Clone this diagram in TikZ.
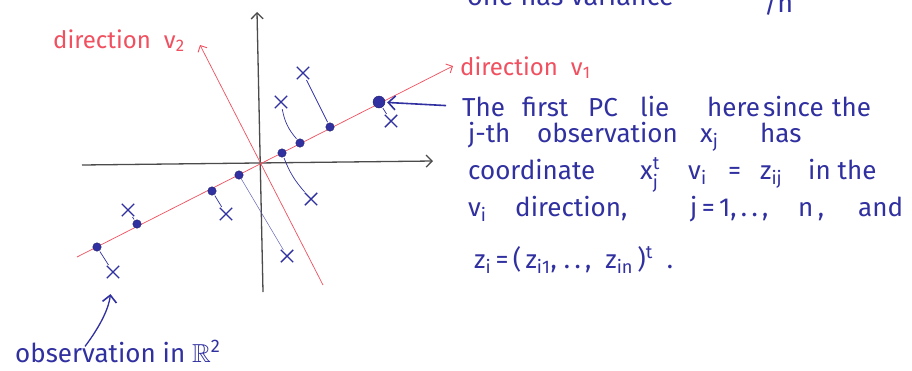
\documentclass[tikz,border=0pt]{standalone}
\usepackage{amsmath,amssymb}
\usepackage{fontspec}
\setmainfont{Fira Sans}
\usetikzlibrary{arrows.meta,shapes.misc}
\definecolor{ink}{RGB}{48,48,160}
\definecolor{redink}{RGB}{240,80,95}
\definecolor{axisgray}{RGB}{75,75,75}
\tikzset{
  axisline/.style={draw=axisgray,line width=1.3pt,-{Straight Barb[length=6pt,width=12pt,line width=1.3pt]}},
  pcline/.style={draw=redink,line width=0.7pt},
  pcarrow/.style={pcline,-{Straight Barb[length=5pt,width=10pt,line width=0.9pt]}},
  dotn/.style={circle,fill=ink,draw=ink!70!black,inner sep=0pt,minimum size=8.5pt},
  bigdot/.style={dotn,minimum size=12pt},
  cross/.style={cross out,draw=ink,line width=1.4pt,inner sep=0pt,minimum size=11pt},
  proj/.style={draw=ink,line width=0.7pt,shorten >=1pt,shorten <=1pt},
  thinproj/.style={draw=ink!80,line width=0.45pt},
  bluetext/.style={text=ink,font=\fontsize{26}{29}\selectfont,inner sep=0pt,anchor=base west},
  toptext/.style={bluetext,font=\fontsize{27}{30}\selectfont},
  redtext/.style={text=redink,font=\fontsize{24}{27}\selectfont,inner sep=0pt,anchor=base west},
  inkarrow/.style={draw=ink,line width=1.6pt,-{Straight Barb[length=7pt,width=14pt,line width=1.6pt]}},
}
\begin{document}
\begin{tikzpicture}[x=1pt,y=-1pt]
\useasboundingbox (0,0) rectangle (912,370);
\clip (0,0) rectangle (912,370);
\fill[white] (0,0) rectangle (912,370);

% partially visible text at top (cut off by the edge, as in the reference)
\node[toptext] (top1) at (467,5) {one has variance};
\node[toptext] (top2) at (764,12) {/n};

% axes
\coordinate (xl) at (82,165);
\coordinate (xr) at (433,161);
\coordinate (yb) at (263,292);
\coordinate (yt) at (257,12);
\draw[axisline] (xl) -- (xr);
\draw[axisline] (yb) -- (yt);

% principal directions
\coordinate (v1a) at (77,257);
\coordinate (v1b) at (453,66);
\coordinate (v2a) at (323,285);
\coordinate (v2b) at (200,45);
\draw[pcarrow] (v1a) -- (v1b);
\draw[pcarrow] (v2a) -- (v2b);

\node[redtext] (lv2) at (53,48) {direction \;v$_{\text{2}}$};
\node[redtext] (lv1) at (460,75) {direction \;v$_{\text{1}}$};

% projected points and observations
\node[dotn] (d1) at (97,247) {};
\node[cross] (c1) at (113,272) {};
\node[dotn] (d2) at (137,224) {};
\node[cross] (c2) at (128,210) {};
\node[dotn] (d3) at (212,191) {};
\node[cross] (c3) at (226,214) {};
\node[dotn] (d4) at (239,175) {};
\node[cross] (c4) at (287,256) {};
\node[dotn] (d5) at (282,153) {};
\node[cross] (c5) at (311,199) {};
\node[dotn] (d6) at (300,143) {};
\node[cross] (c6) at (281,102) {};
\node[dotn] (d7) at (330,127) {};
\node[cross] (c7) at (303,73) {};
\node[bigdot] (d8) at (379,102) {};
\node[cross] (c8) at (391,121) {};

\draw[proj] (d1) -- (c1);
\draw[proj] (d2) -- (c2);
\draw[proj] (d3) -- (c3);
\draw[thinproj] (d4) -- (c4);
\draw[proj] (d5) to[bend right=10] (c5);
\draw[proj] (d6) to[bend left=15] (c6);
\draw[proj] (d7) -- (c7);
\draw[proj] (d8) -- (c8);

% explanatory text
\node[bluetext] (t1a) at (462,116) {The};
\node[bluetext] (t1b) at (522,116) {first};
\node[bluetext] (t1c) at (588,116) {PC};
\node[bluetext] (t1d) at (640,116) {lie};
\node[bluetext] (t1e) at (707,116) {here\hspace{3pt}since};
\node[bluetext] (t1f) at (832,116) {the};
\node[bluetext] (t2a) at (468,142) {j-th};
\node[bluetext] (t2b) at (537,142) {observation};
\node[bluetext] (t2c) at (700,142) {x$_{\text{j}}$};
\node[bluetext] (t2d) at (760,142) {has};
\node[bluetext] (t3a) at (468,179) {coordinate};
\node[bluetext] (t3b) at (640,179) {x$_{\text{j}}^{\text{t}}$};
\node[bluetext] (t3c) at (688,179) {v$_{\text{i}}$};
\node[bluetext] (t3d) at (728,179) {=};
\node[bluetext] (t3e) at (760,179) {z$_{\text{ij}}$};
\node[bluetext] (t3f) at (808,179) {in the};
\node[bluetext] (t4a) at (468,216) {v$_{\text{i}}$};
\node[bluetext] (t4b) at (515,216) {direction,};
\node[bluetext] (t4c) at (690,216) {j\,=\,1,\,.\,.\,,};
\node[bluetext] (t4d) at (798,216) {n\,,};
\node[bluetext] (t4e) at (858,216) {and};
\node[bluetext] (t5) at (474,268) {z$_{\text{i}}$\,=\,(\,z$_{\text{i1}}$,\;.\,.\,,\; z$_{\text{in}}$\,)$^{\text{t}}$\hspace{14pt}.};

\draw[inkarrow,shorten <=16pt,shorten >=2pt] (t1a.west) -- (d8);

\node[bluetext] (obs) at (15,362) {observation in $\mathbb{R}^{\text{2}}$};
\draw[inkarrow,line width=1.3pt,shorten >=16pt] ([xshift=70pt,yshift=-6pt]obs.north west) to[bend right=15] (c1);
\end{tikzpicture}
\end{document}
